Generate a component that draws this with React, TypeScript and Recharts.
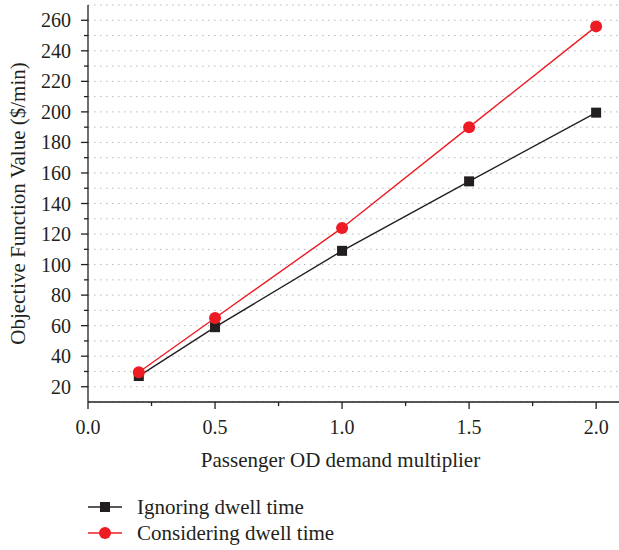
import { CartesianGrid, Legend, Line, LineChart, XAxis, YAxis } from "recharts";

const multipliers = [0.2, 0.5, 1.0, 1.5, 2.0];
const ignoringDwell = [27, 59, 109, 154.5, 199.5];
const consideringDwell = [29.5, 65, 124, 190, 256];
const seriesNames = ["Ignoring dwell time", "Considering dwell time"];

const xTicks = [0, 0.25, 0.5, 0.75, 1, 1.25, 1.5, 1.75, 2];
const xMajor = [0, 0.5, 1, 1.5, 2];
const yTicks = [20, 30, 40, 50, 60, 70, 80, 90, 100, 110, 120, 130, 140, 150, 160, 170, 180, 190, 200, 210, 220, 230, 240, 250, 260];
const yMajor = [20, 40, 60, 80, 100, 120, 140, 160, 180, 200, 220, 240, 260];

const data = multipliers.map((m, i) => ({
  m,
  ignoring: ignoringDwell[i],
  considering: consideringDwell[i]
}));

const ink = "#231f20";
const red = "#ed1c24";
const font = "'Liberation Serif', 'DejaVu Serif', serif";
const tickSize = 20;
const titleSize = 21;

function XTick({ x, y, payload }: any) {
  const major = xMajor.includes(payload.value);
  return (
    <g>
      <line x1={x} x2={x} y1={y} y2={y + (major ? 7 : 4)} stroke={ink} strokeWidth={1.3} />
      {major && (
        <text x={x} y={y + 32} textAnchor="middle" fill={ink} fontFamily={font} fontSize={tickSize}>
          {payload.value.toFixed(1)}
        </text>
      )}
    </g>
  );
}

function YTick({ x, y, payload }: any) {
  const major = yMajor.includes(payload.value);
  return (
    <g>
      <line x1={x - (major ? 7 : 4)} x2={x} y1={y} y2={y} stroke={ink} strokeWidth={1.3} />
      {major && (
        <text x={x - 17} y={y} dy="0.35em" textAnchor="end" fill={ink} fontFamily={font} fontSize={tickSize}>
          {payload.value}
        </text>
      )}
    </g>
  );
}

function LegendBox() {
  return (
    <div style={{ height: 70, paddingTop: 14, paddingLeft: 88, boxSizing: "border-box", fontFamily: font, fontSize: titleSize, color: ink }}>
      {seriesNames.map((name, i) => (
        <div key={name} style={{ display: "flex", alignItems: "center", height: 26 }}>
          <svg width={34} height={14} style={{ marginRight: 15 }}>
            <line x1={0} x2={34} y1={7} y2={7} stroke={i === 0 ? ink : red} strokeWidth={1.4} />
            {i === 0 ? (
              <rect x={12} y={2} width={10} height={10} fill={ink} />
            ) : (
              <circle cx={17} cy={7} r={6} fill={red} />
            )}
          </svg>
          <span>{name}</span>
        </div>
      ))}
    </div>
  );
}

export default function App() {
  return (
    <div style={{ position: "absolute", left: 0, top: 0 }}>
      <LineChart width={619} height={550} data={data} margin={{ top: 5, right: 0, bottom: 0, left: 0 }}>
        <CartesianGrid vertical={false} stroke="#b5b7ba" strokeDasharray="1.5 4.5" strokeWidth={1} />
        <XAxis
          type="number"
          dataKey="m"
          domain={[0, 2.09]}
          ticks={xTicks}
          interval={0}
          allowDataOverflow
          tickSize={0}
          tickMargin={0}
          height={78}
          tick={<XTick />}
          axisLine={{ stroke: ink, strokeWidth: 1.3 }}
          label={{
            content: ({ viewBox }: any) => (
              <text
                x={viewBox.x + viewBox.width / 2 - 13}
                y={viewBox.y + 65}
                textAnchor="middle"
                fill={ink}
                fontFamily={font}
                fontSize={titleSize}
              >
                Passenger OD demand multiplier
              </text>
            )
          }}
        />
        <YAxis
          type="number"
          domain={[10, 270]}
          ticks={yTicks}
          interval={0}
          allowDataOverflow
          tickSize={0}
          tickMargin={0}
          width={88}
          tick={<YTick />}
          axisLine={{ stroke: ink, strokeWidth: 1.3 }}
          label={{
            content: ({ viewBox }: any) => {
              const cx = viewBox.x + 18;
              const cy = viewBox.y + viewBox.height / 2;
              return (
                <text
                  x={cx}
                  y={cy}
                  transform={`rotate(-90 ${cx} ${cy})`}
                  textAnchor="middle"
                  dominantBaseline="central"
                  fill={ink}
                  fontFamily={font}
                  fontSize={titleSize}
                >
                  Objective Function Value ($/min)
                </text>
              );
            }
          }}
        />
        <Legend verticalAlign="bottom" align="left" content={<LegendBox />} />
        <Line
          dataKey="ignoring"
          name={seriesNames[0]}
          stroke={ink}
          strokeWidth={1.4}
          isAnimationActive={false}
          dot={(p: any) => <rect key={`sq-${p.index}`} x={p.cx - 5} y={p.cy - 5} width={10} height={10} fill={ink} />}
          activeDot={false}
        />
        <Line
          dataKey="considering"
          name={seriesNames[1]}
          stroke={red}
          strokeWidth={1.4}
          isAnimationActive={false}
          dot={{ r: 6, fill: red, stroke: red, strokeWidth: 0 }}
          activeDot={false}
        />
      </LineChart>
    </div>
  );
}
